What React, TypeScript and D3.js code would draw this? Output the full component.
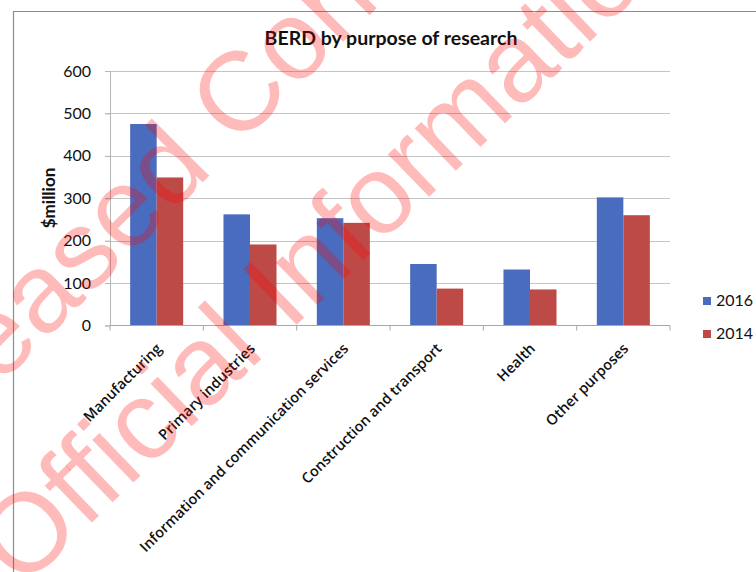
import { useEffect, useRef } from 'react';
import * as d3 from 'd3';

const categories = [
  'Manufacturing',
  'Primary industries',
  'Information and communication services',
  'Construction and transport',
  'Health',
  'Other purposes',
];
const years = ['2016', '2014'];
const values2016 = [475, 262, 253, 145, 132, 302];
const values2014 = [349, 191, 242, 87, 85, 260];
const yTicks = [0, 100, 200, 300, 400, 500, 600];
const watermarkLines = ['Released Consistent with the', 'Official Information Act'];

function App() {
  const svgRef = useRef<SVGSVGElement | null>(null);
  const width = 756;
  const height = 572;
  const margin = { top: 71, right: 86, bottom: 246.5, left: 110 };
  const font = 'Lato, "Open Sans", sans-serif';
  const colors = ['#4a6cbe', '#bd4a47'];

  useEffect(() => {
    const svg = d3.select(svgRef.current).attr('viewBox', `0,0,${width},${height}`);
    svg.selectAll('*').remove();

    // chart frame
    svg.append('line').attr('x1', 13).attr('x2', width).attr('y1', 11.5).attr('y2', 11.5)
      .attr('stroke', '#8c8c8c').attr('stroke-width', 1.2);
    svg.append('line').attr('x1', 13.5).attr('x2', 13.5).attr('y1', 11).attr('y2', height)
      .attr('stroke', '#8c8c8c').attr('stroke-width', 1.2);

    const x0 = d3.scaleBand().domain(categories).range([margin.left, width - margin.right]).paddingInner(0).paddingOuter(0);
    const x1 = d3.scaleBand().domain(years).range([0, x0.bandwidth()]).paddingInner(0).paddingOuter(0.76);
    const y = d3.scaleLinear().domain([0, 600]).range([height - margin.bottom, margin.top]);

    // gridlines
    svg.append('g')
      .selectAll('line')
      .data(yTicks.slice(1))
      .enter()
      .append('line')
      .attr('x1', margin.left - 5)
      .attr('x2', width - margin.right)
      .attr('y1', (d) => Math.round(y(d)) + 0.5)
      .attr('y2', (d) => Math.round(y(d)) + 0.5)
      .attr('stroke', '#c4c4c4');

    // y axis
    const yAxis = svg.append('g').attr('transform', `translate(${margin.left},0)`)
      .call(d3.axisLeft(y).tickValues(yTicks).tickSize(5).tickPadding(14));
    yAxis.select('.domain').attr('stroke', '#b5b5b5');
    yAxis.selectAll('.tick line').attr('stroke', '#b5b5b5');
    yAxis.selectAll('.tick text').attr('font-family', font).attr('font-size', 16).attr('fill', '#111');

    // bars
    const groups = svg.append('g')
      .selectAll('g')
      .data(categories)
      .enter()
      .append('g')
      .attr('transform', (d) => `translate(${x0(d)},0)`);

    groups.selectAll('rect')
      .data((_, i) => years.map((yr, j) => ({ yr, v: j === 0 ? values2016[i] : values2014[i] })))
      .enter()
      .append('rect')
      .attr('x', (d) => x1(d.yr) as number)
      .attr('y', (d) => y(d.v))
      .attr('width', x1.bandwidth())
      .attr('height', (d) => y(0) - y(d.v))
      .attr('fill', (_, j) => colors[j]);

    // x axis
    const xAxis = svg.append('g').attr('transform', `translate(0,${y(0)})`);
    xAxis.append('line').attr('x1', margin.left).attr('x2', width - margin.right)
      .attr('stroke', '#a8a8a8');
    xAxis.selectAll('line.tk')
      .data(d3.range(categories.length + 1))
      .enter()
      .append('line')
      .attr('class', 'tk')
      .attr('x1', (i) => margin.left + i * x0.step())
      .attr('x2', (i) => margin.left + i * x0.step())
      .attr('y1', 0)
      .attr('y2', 5)
      .attr('stroke', '#a8a8a8');

    svg.append('g')
      .selectAll('text')
      .data(categories)
      .enter()
      .append('text')
      .attr('transform', (d) => `translate(${(x0(d) as number) + x0.bandwidth() / 2 + 6},${y(0) + 24}) rotate(-45)`)
      .attr('text-anchor', 'end')
      .attr('font-family', '"Open Sans", Lato, sans-serif')
      .attr('font-weight', 600)
      .attr('font-size', 14.5)
      .attr('fill', '#111')
      .text((d) => d);

    // titles
    svg.append('text').attr('x', 391).attr('y', 45).attr('text-anchor', 'middle')
      .attr('font-family', font).attr('font-weight', 'bold').attr('font-size', 19.5).attr('fill', '#111')
      .text('BERD by purpose of research');
    svg.append('text').attr('transform', 'translate(55,198) rotate(-90)').attr('text-anchor', 'middle')
      .attr('font-family', font).attr('font-weight', 'bold').attr('font-size', 17).attr('fill', '#111')
      .text('$million');

    // legend
    const legend = svg.append('g')
      .selectAll('g')
      .data(years)
      .enter()
      .append('g')
      .attr('transform', (_, i) => `translate(703,${297 + i * 33})`);
    legend.append('rect').attr('width', 8).attr('height', 8).attr('fill', (_, i) => colors[i]);
    legend.append('text').attr('x', 13).attr('y', 9).attr('font-family', font).attr('font-size', 16)
      .attr('fill', '#111').text((d) => d);

    // watermark
    svg.append('g')
      .selectAll('text')
      .data(watermarkLines)
      .enter()
      .append('text')
      .attr('transform', (_, i) => (i === 0 ? 'translate(-120,505) rotate(-45)' : 'translate(22,590) rotate(-44)'))
      .attr('font-family', '"Liberation Sans", Arial, sans-serif')
      .attr('font-size', 112)
      .attr('fill', '#ff0000')
      .attr('fill-opacity', 0.27)
      .text((d) => d);
  }, []);

  return <svg ref={svgRef} width={width} height={height} style={{ position: 'absolute', left: 0, top: 0, background: '#fff' }} />;
}

export default App;
